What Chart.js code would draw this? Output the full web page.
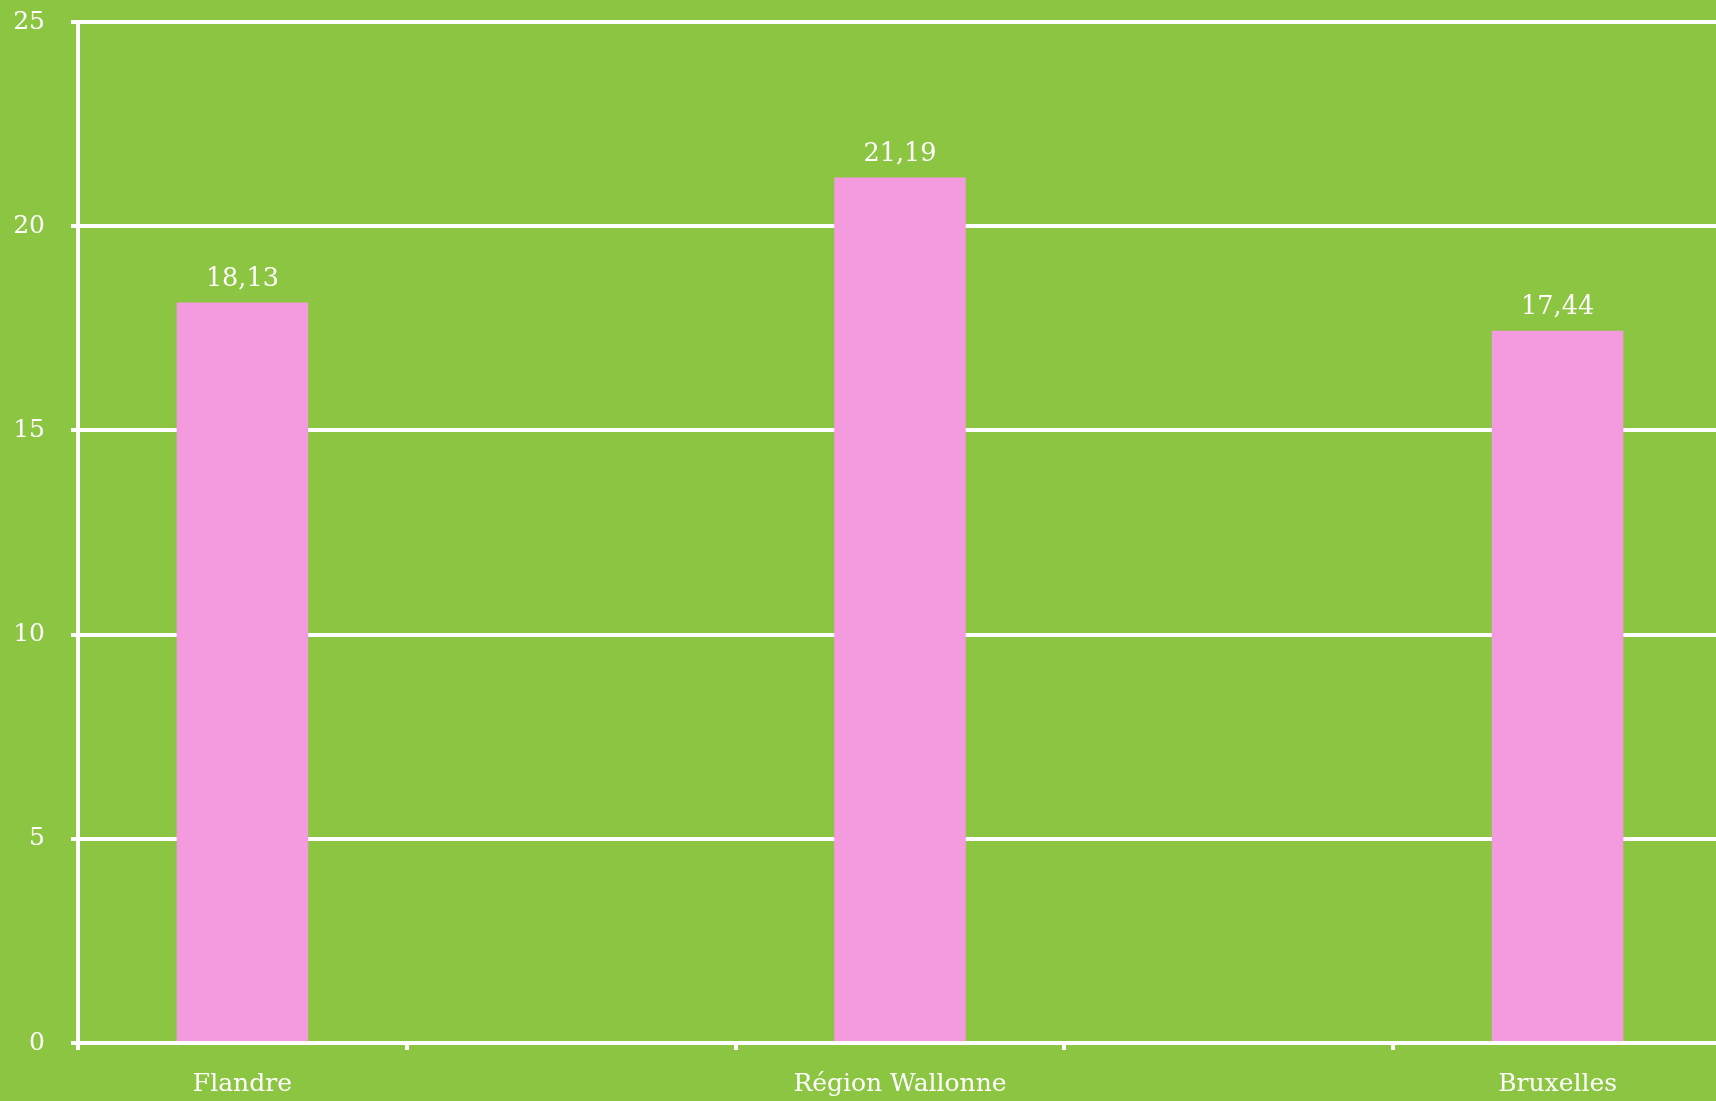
<!DOCTYPE html>
<html>
<head>
<meta charset="utf-8">
<script src="https://cdn.jsdelivr.net/npm/chart.js@4"></script>
<style>
  html, body { margin: 0; padding: 0; background: #8BC541; overflow: hidden; width: 1716px; height: 1101px; }
  #wrap { position: absolute; left: 0; top: 0; width: 1722px; height: 1101px; }
</style>
</head>
<body>
<div id="wrap"><canvas id="c" width="1722" height="1101"></canvas></div>
<script>
const categories = ['Flandre', '', 'Région Wallonne', '', 'Bruxelles'];
const values = [18.13, null, 21.19, null, 17.44];
const yTicks = [0, 5, 10, 15, 20, 25];

const GREEN = '#8BC541';
const PINK = '#F49ADF';
const WHITE = '#FFFFFF';
const FONT = '"DejaVu Serif", serif';

const bgPlugin = {
  id: 'bg',
  beforeDraw(chart) {
    const ctx = chart.ctx;
    ctx.save();
    ctx.fillStyle = GREEN;
    ctx.fillRect(0, 0, chart.width, chart.height);
    ctx.restore();
  }
};

const labelPlugin = {
  id: 'valueLabels',
  afterDatasetsDraw(chart) {
    const ctx = chart.ctx;
    const meta = chart.getDatasetMeta(0);
    ctx.save();
    ctx.fillStyle = WHITE;
    ctx.font = '25.5px ' + FONT;
    ctx.textAlign = 'center';
    ctx.textBaseline = 'alphabetic';
    meta.data.forEach((bar, i) => {
      const v = values[i];
      if (v === null || v === undefined) return;
      ctx.fillText(v.toFixed(2).replace('.', ','), bar.x, bar.y - 17);
    });
    ctx.restore();
  }
};

new Chart(document.getElementById('c'), {
  type: 'bar',
  data: {
    labels: categories,
    datasets: [{
      data: values,
      backgroundColor: PINK,
      borderWidth: 0,
      categoryPercentage: 1.0,
      barPercentage: 0.4
    }]
  },
  options: {
    responsive: false,
    animation: false,
    devicePixelRatio: 1,
    layout: { padding: { left: 0, top: 22, right: 0, bottom: 0 } },
    plugins: { legend: { display: false }, tooltip: { enabled: false } },
    scales: {
      x: {
        offset: true,
        afterFit(scale) { scale.height = 58; },
        grid: {
          display: true,
          offset: true,
          drawOnChartArea: false,
          drawTicks: true,
          tickLength: 7,
          color: WHITE,
          lineWidth: 4
        },
        border: { display: true, color: WHITE, width: 4 },
        ticks: {
          color: WHITE,
          font: { family: FONT, size: 25 },
          padding: 19,
          maxRotation: 0,
          autoSkip: false
        }
      },
      y: {
        min: 0,
        max: 25,
        afterFit(scale) { scale.width = 78; scale.paddingTop = 0; scale.paddingBottom = 0; },
        afterBuildTicks(scale) { scale.ticks = yTicks.map(v => ({ value: v })); },
        grid: {
          color: WHITE,
          lineWidth: 4,
          tickLength: 7,
          drawTicks: true
        },
        border: { display: true, color: WHITE, width: 4 },
        ticks: {
          color: WHITE,
          font: { family: FONT, size: 25 },
          padding: 26
        }
      }
    }
  },
  plugins: [bgPlugin, labelPlugin]
});
</script>
</body>
</html>
